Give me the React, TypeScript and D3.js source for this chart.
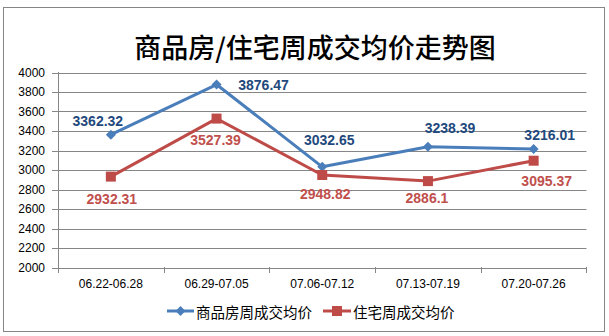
import React from "react";
import * as d3 from "d3";

const categories = ["06.22-06.28", "06.29-07.05", "07.06-07.12", "07.13-07.19", "07.20-07.26"];
const commercialValues = [3362.32, 3876.47, 3032.65, 3238.39, 3216.01];
const residentialValues = [2932.31, 3527.39, 2948.82, 2886.1, 3095.37];
const commercialLabels = ["3362.32", "3876.47", "3032.65", "3238.39", "3216.01"];
const residentialLabels = ["2932.31", "3527.39", "2948.82", "2886.1", "3095.37"];
const yTicks = [2000, 2200, 2400, 2600, 2800, 3000, 3200, 3400, 3600, 3800, 4000];
const seriesNames = ["商品房周成交均价", "住宅周成交均价"];
const titleText = "商品房/住宅周成交均价走势图";

// label offsets (layout)
const blueOffsets: [number, number][] = [[-13, -14], [47, 0], [7, -27], [22, -19], [16, -14]];
const redOffsets: [number, number][] = [[1, 22], [-1, 21], [3, 19], [-1, 17], [13, 20]];

const W = 609, H = 336;
const BLUE = "#4A7EBB";
const RED = "#BE4B48";
const BLUE_TXT = "#1F497D";
const RED_TXT = "#C0504D";

export default function App() {
  const x = d3.scaleBand<string>().domain(categories).range([58, 586.5]);
  const y = d3.scaleLinear().domain([2000, 4000]).range([267.5, 72.5]);
  const cx = (c: string) => (x(c) as number) + x.bandwidth() / 2;
  const line = d3.line<number>().x((_, i) => cx(categories[i])).y((v) => y(v));
  const font = "'Liberation Sans', Arial, sans-serif";
  const cjk = "'Noto Sans CJK SC', sans-serif";

  return (
    <svg width={W} height={H} style={{ position: "absolute", left: 0, top: 0, background: "#fff" }}>
      <rect x={0} y={0} width={W} height={H} fill="#fff" />
      <rect x={3.5} y={7.5} width={601} height={324} fill="none" stroke="#868686" strokeWidth={1} />
      <text x={315} y={46} textAnchor="middle" dominantBaseline="central" fontFamily={cjk} fontSize={27} fontWeight={500} fill="#000">{titleText}</text>
      {yTicks.map((t) => (
        <g key={t}>
          <line x1={52} x2={586.5} y1={Math.round(y(t)) + 0.5} y2={Math.round(y(t)) + 0.5} stroke="#868686" strokeWidth={1} />
          <text x={45} y={y(t)} textAnchor="end" dominantBaseline="central" fontFamily={font} fontSize={12} fill="#000">{t}</text>
        </g>
      ))}
      <line x1={58.5} x2={58.5} y1={72} y2={268} stroke="#868686" />
      {[...categories.map((c) => x(c) as number), 586].map((tx, i) => (
        <line key={i} x1={Math.round(tx) + 0.5} x2={Math.round(tx) + 0.5} y1={267} y2={273} stroke="#868686" />
      ))}
      {categories.map((c) => (
        <text key={c} x={cx(c)} y={284} textAnchor="middle" dominantBaseline="central" fontFamily={font} fontSize={12} fill="#000">{c}</text>
      ))}
      <path d={line(residentialValues) || ""} fill="none" stroke={RED} strokeWidth={3} strokeLinejoin="round" />
      <path d={line(commercialValues) || ""} fill="none" stroke={BLUE} strokeWidth={3} strokeLinejoin="round" />
      {commercialValues.map((v, i) => {
        const px = cx(categories[i]), py = y(v);
        return <path key={i} d={`M${px},${py - 5}L${px + 5},${py}L${px},${py + 5}L${px - 5},${py}Z`} fill={BLUE} />;
      })}
      {residentialValues.map((v, i) => {
        const px = cx(categories[i]), py = y(v);
        return <rect key={i} x={px - 5} y={py - 5} width={10} height={10} fill={RED} />;
      })}
      {commercialValues.map((v, i) => (
        <text key={i} x={cx(categories[i]) + blueOffsets[i][0]} y={y(v) + blueOffsets[i][1]} textAnchor="middle"
          dominantBaseline="central" fontFamily={font} fontSize={14} fontWeight={700} fill={BLUE_TXT}>{commercialLabels[i]}</text>
      ))}
      {residentialValues.map((v, i) => (
        <text key={i} x={cx(categories[i]) + redOffsets[i][0]} y={y(v) + redOffsets[i][1]} textAnchor="middle"
          dominantBaseline="central" fontFamily={font} fontSize={14} fontWeight={700} fill={RED_TXT}>{residentialLabels[i]}</text>
      ))}
      <g>
        <line x1={167} x2={194} y1={311} y2={311} stroke={BLUE} strokeWidth={3} />
        <path d="M180.5,306L185.5,311L180.5,316L175.5,311Z" fill={BLUE} />
        <text x={196} y={311} dominantBaseline="central" fontFamily={cjk} fontSize={14.5} fill="#000">{seriesNames[0]}</text>
        <line x1={323} x2={351} y1={311} y2={311} stroke={RED} strokeWidth={3} />
        <rect x={332} y={306} width={10} height={10} fill={RED} />
        <text x={353} y={311} dominantBaseline="central" fontFamily={cjk} fontSize={14.5} fill="#000">{seriesNames[1]}</text>
      </g>
    </svg>
  );
}
